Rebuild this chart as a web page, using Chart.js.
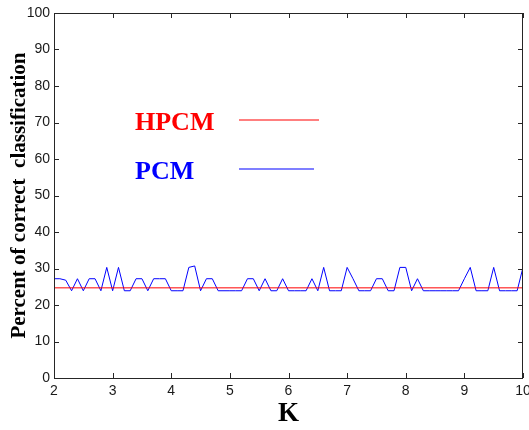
<!DOCTYPE html>
<html>
<head>
<meta charset="utf-8">
<script src="https://cdn.jsdelivr.net/npm/chart.js@4"></script>
<style>
  body { margin: 0; background: #fff; }
  canvas { display: block; }
</style>
</head>
<body>
<canvas id="kChart" width="529" height="430"></canvas>
<script>
// K values on the x axis
const kValues = [
  2.0, 2.1, 2.2, 2.3, 2.4, 2.5, 2.6, 2.7, 2.8, 2.9,
  3.0, 3.1, 3.2, 3.3, 3.4, 3.5, 3.6, 3.7, 3.8, 3.9,
  4.0, 4.1, 4.2, 4.3, 4.4, 4.5, 4.6, 4.7, 4.8, 4.9,
  5.0, 5.1, 5.2, 5.3, 5.4, 5.5, 5.6, 5.7, 5.8, 5.9,
  6.0, 6.1, 6.2, 6.3, 6.4, 6.5, 6.6, 6.7, 6.8, 6.9,
  7.0, 7.1, 7.2, 7.3, 7.4, 7.5, 7.6, 7.7, 7.8, 7.9,
  8.0, 8.1, 8.2, 8.3, 8.4, 8.5, 8.6, 8.7, 8.8, 8.9,
  9.0, 9.1, 9.2, 9.3, 9.4, 9.5, 9.6, 9.7, 9.8, 9.9,
  10.0
];

// PCM accuracy (%) for each K
const pcmValues = [
  27.2, 27.2, 26.8, 23.9, 27.2, 23.9, 27.2, 27.2, 23.9, 30.3,
  23.9, 30.3, 23.9, 23.9, 27.2, 27.2, 23.9, 27.2, 27.2, 27.2,
  23.9, 23.9, 23.9, 30.3, 30.7, 23.9, 27.2, 27.2, 23.9, 23.9,
  23.9, 23.9, 23.9, 27.2, 27.2, 23.9, 27.2, 23.9, 23.9, 27.2,
  23.9, 23.9, 23.9, 23.9, 27.2, 23.9, 30.3, 23.9, 23.9, 23.9,
  30.3, 27.2, 23.9, 23.9, 23.9, 27.2, 27.2, 23.9, 23.9, 30.3,
  30.3, 23.9, 27.2, 23.9, 23.9, 23.9, 23.9, 23.9, 23.9, 23.9,
  27.2, 30.3, 23.9, 23.9, 23.9, 30.3, 23.9, 23.9, 23.9, 23.9,
  30.3
];

// HPCM is flat over the whole range
const hpcmK = [2, 10];
const hpcmValues = [24.7, 24.7];

const xTicks = [2, 3, 4, 5, 6, 7, 8, 9, 10];
const yTicks = [0, 10, 20, 30, 40, 50, 60, 70, 80, 90, 100];

const legendItems = [
  { label: 'HPCM', color: '#ff0000' },
  { label: 'PCM', color: '#0000ff' }
];

function toPoints(xs, ys) {
  return xs.map((x, i) => ({ x: x, y: ys[i] }));
}

// box, inward ticks on all four sides, legend inside the plot
const boxPlugin = {
  id: 'boxPlugin',
  afterDraw(chart) {
    const ctx = chart.ctx;
    const a = chart.chartArea;
    const xs = chart.scales.x;
    const ys = chart.scales.y;
    ctx.save();
    ctx.strokeStyle = '#262626';
    ctx.lineWidth = 1;
    ctx.strokeRect(Math.round(a.left) + 0.5, Math.round(a.top) + 0.5,
      Math.round(a.right - a.left) - 1, Math.round(a.bottom - a.top));
    ctx.beginPath();
    xTicks.forEach(v => {
      const px = Math.round(xs.getPixelForValue(v)) + 0.5;
      ctx.moveTo(px, a.bottom);
      ctx.lineTo(px, a.bottom - 5);
      ctx.moveTo(px, a.top);
      ctx.lineTo(px, a.top + 5);
    });
    yTicks.forEach(v => {
      const py = Math.round(ys.getPixelForValue(v)) + 0.5;
      ctx.moveTo(a.left, py);
      ctx.lineTo(a.left + 5, py);
      ctx.moveTo(a.right, py);
      ctx.lineTo(a.right - 5, py);
    });
    ctx.stroke();

    // legend
    ctx.font = 'bold 26px "Liberation Serif", serif';
    ctx.textBaseline = 'alphabetic';
    legendItems.forEach((item, i) => {
      const y = 130 + i * 49;
      ctx.fillStyle = item.color;
      ctx.fillText(item.label, 135, y);
      ctx.beginPath();
      ctx.strokeStyle = item.color;
      ctx.lineWidth = 1.2;
      ctx.moveTo(239, y - 10);
      ctx.lineTo(i === 0 ? 319 : 314, y - 10);
      ctx.stroke();
    });
    ctx.restore();
  }
};

const ctx = document.getElementById('kChart').getContext('2d');
const kChart = new Chart(ctx, {
  type: 'line',
  data: {
    datasets: [
      {
        label: 'HPCM',
        data: toPoints(hpcmK, hpcmValues),
        borderColor: '#ff0000',
        borderWidth: 1,
        pointRadius: 0,
        tension: 0
      },
      {
        label: 'PCM',
        data: toPoints(kValues, pcmValues),
        borderColor: '#0000ff',
        borderWidth: 1,
        pointRadius: 0,
        tension: 0
      }
    ]
  },
  options: {
    responsive: false,
    animation: false,
    layout: {
      padding: { top: 13, right: 6, left: 0, bottom: 0 }
    },
    plugins: {
      legend: { display: false },
      tooltip: { enabled: false }
    },
    scales: {
      x: {
        type: 'linear',
        min: 2,
        max: 10,
        afterBuildTicks: s => { s.ticks = xTicks.map(v => ({ value: v })); },
        afterFit: s => { s.height = 52; s.paddingLeft = 0; s.paddingRight = 0; },
        grid: { display: false, drawTicks: false },
        border: { display: false },
        ticks: {
          padding: 5,
          color: '#1a1a1a',
          font: { family: '"Liberation Sans", Arial, sans-serif', size: 14 }
        },
        title: {
          display: true,
          text: 'K',
          color: '#000',
          padding: { top: 0, bottom: 0 },
          font: { family: '"Liberation Serif", serif', size: 27, weight: 'bold' }
        }
      },
      y: {
        min: 0,
        max: 100,
        afterBuildTicks: s => { s.ticks = yTicks.map(v => ({ value: v })); },
        afterFit: s => { s.width = 54; s.paddingTop = 0; s.paddingBottom = 0; },
        grid: { display: false, drawTicks: false },
        border: { display: false },
        ticks: {
          padding: 4,
          color: '#1a1a1a',
          font: { family: '"Liberation Sans", Arial, sans-serif', size: 14 }
        },
        title: {
          display: true,
          text: 'Percent of correct  classification',
          color: '#000',
          padding: { top: 7, bottom: 0 },
          font: { family: '"Liberation Serif", serif', size: 21, weight: 'bold' }
        }
      }
    }
  },
  plugins: [boxPlugin]
});
</script>
</body>
</html>
